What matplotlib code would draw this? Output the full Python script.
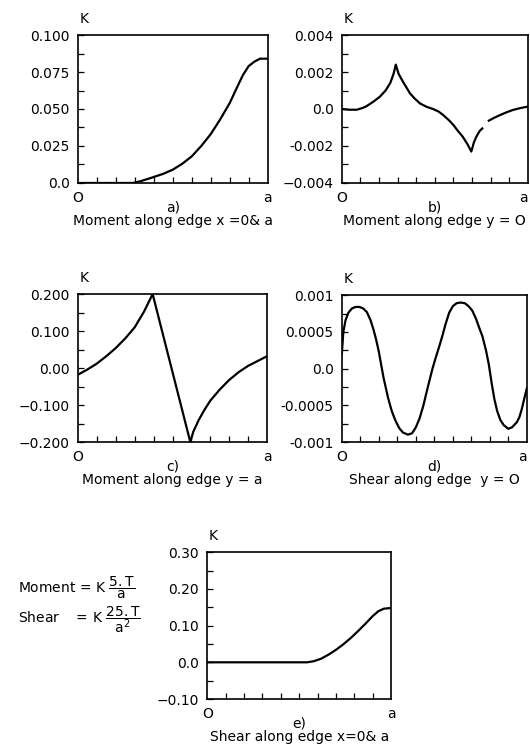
import numpy as np
import matplotlib
matplotlib.use("Agg")
import matplotlib.pyplot as plt

# a) moment along edge x = 0 & a
a_x = [0, 0.29, 0.33, 0.37, 0.41, 0.45, 0.5, 0.55, 0.6, 0.65, 0.7, 0.75, 0.8, 0.84, 0.87, 0.9, 0.93, 0.96, 1.0]
a_y = [0, 0, 0.0012, 0.0028, 0.0045, 0.0062, 0.009, 0.013, 0.018, 0.025, 0.033, 0.043, 0.054, 0.065, 0.073,
       0.079, 0.082, 0.084, 0.084]

# b) moment along edge y = 0 (gap in the original trace)
b_x = [0, 0.04, 0.08, 0.11, 0.134, 0.17, 0.205, 0.235, 0.26, 0.278, 0.29, 0.305, 0.33, 0.366, 0.39, 0.42,
       0.455, 0.49, 0.52, 0.545, 0.575, 0.6, 0.625, 0.65, 0.675, 0.696, 0.71, 0.723, 0.74, 0.755, 0.77,
       0.79, 0.82, 0.85, 0.885, 0.92, 0.96, 1.0]
b_y = [0, -0.00004, -0.00004, 0.00005, 0.00016, 0.0004, 0.00067, 0.001, 0.0014, 0.0019, 0.0024, 0.0019,
       0.00145, 0.00085, 0.00058, 0.0003, 0.00012, 0.0, -0.00014, -0.00033, -0.0006, -0.00087, -0.0012,
       -0.0015, -0.0019, -0.0023, -0.0018, -0.0015, -0.0012, -0.00105, np.nan,
       -0.00063, -0.00047, -0.00033, -0.00018, -0.00005, 0.00005, 0.00013]

# c) moment along edge y = a
c_x = [0, 0.05, 0.1, 0.15, 0.2, 0.25, 0.3, 0.35, 0.395, 0.594, 0.61, 0.638, 0.67, 0.7, 0.75, 0.8, 0.85,
       0.9, 0.95, 1.0]
c_y = [-0.018, -0.004, 0.012, 0.032, 0.054, 0.08, 0.11, 0.153, 0.2, -0.2, -0.172, -0.141, -0.112, -0.088,
       -0.058, -0.032, -0.011, 0.006, 0.019, 0.032]

# d) shear along edge y = 0
d_x = [0, 0.008, 0.02, 0.035, 0.055, 0.075, 0.095, 0.115, 0.135, 0.155, 0.17, 0.185, 0.2, 0.225, 0.25,
       0.27, 0.29, 0.31, 0.33, 0.357, 0.38, 0.4, 0.42, 0.44, 0.464, 0.49, 0.51, 0.53, 0.545, 0.56, 0.58,
       0.6, 0.62, 0.643, 0.665, 0.685, 0.705, 0.725, 0.745, 0.76, 0.78, 0.795, 0.81, 0.825, 0.84, 0.857,
       0.875, 0.9, 0.92, 0.946, 0.96, 0.973, 0.987, 1.0]
d_y = [0.0002, 0.0005, 0.00066, 0.00076, 0.00082, 0.00084, 0.00084, 0.00082, 0.00077, 0.00066, 0.00054,
       0.0004, 0.00023, -0.00012, -0.0004, -0.00058, -0.00071, -0.00081, -0.00087, -0.0009, -0.00088,
       -0.0008, -0.00068, -0.00051, -0.00026, 0.0, 0.00017, 0.00033, 0.00046, 0.0006, 0.00076, 0.00085,
       0.00089, 0.0009, 0.00089, 0.00085, 0.00079, 0.00068, 0.00054, 0.00044, 0.00024, 0.00005, -0.0002,
       -0.00042, -0.00058, -0.0007, -0.00077, -0.00082, -0.0008, -0.00073, -0.00066, -0.00055, -0.0004,
       -0.00027]

# e) shear along edge x = 0 & a
e_x = [0, 0.543, 0.58, 0.62, 0.66, 0.7, 0.74, 0.78, 0.82, 0.86, 0.9, 0.93, 0.96, 1.0]
e_y = [0, 0, 0.003, 0.01, 0.021, 0.034, 0.049, 0.066, 0.085, 0.105, 0.126, 0.139, 0.146, 0.148]

a_ticks = [0.0, 0.025, 0.050, 0.075, 0.100]
a_labels = ["0.0", "0.025", "0.050", "0.075", "0.100"]
b_ticks = [-0.004, -0.002, 0.0, 0.002, 0.004]
b_labels = ["\u22120.004", "-0.002", "0.0", "0.002", "0.004"]
c_ticks = [-0.2, -0.1, 0.0, 0.1, 0.2]
c_labels = ["\u22120.200", "\u22120.100", "0.00", "0.100", "0.200"]
d_ticks = [-0.001, -0.0005, 0.0, 0.0005, 0.001]
d_labels = ["-0.001", "-0.0005", "0.0", "0.0005", "0.001"]
e_ticks = [-0.1, 0.0, 0.1, 0.2, 0.3]
e_labels = ["\u22120.10", "0.0", "0.10", "0.20", "0.30"]

plt.rcParams['font.family'] = ['DejaVu Sans']
plt.rcParams['mathtext.default'] = 'regular'
fs = 10

fig = plt.figure(figsize=(5.3, 7.53), dpi=100)


def panel(rect, x, y, ticks, labels, minor_step, tag, title, right_edge=False):
    ax = fig.add_axes(rect)
    ax.plot(x, y, color="black", lw=1.6)
    ax.set_xlim(0, 1)
    ax.set_ylim(ticks[0], ticks[-1])
    ax.set_yticks(ticks)
    ax.set_yticklabels(labels, fontsize=fs)
    ax.set_yticks(np.arange(ticks[0], ticks[-1] + minor_step / 2, minor_step), minor=True)
    ax.set_xticks([0, 1])
    ax.set_xticklabels(["O", "a"], fontsize=fs)
    if right_edge:
        ax.get_xticklabels()[1].set_horizontalalignment("right")
    ax.set_xticks(np.arange(0.1, 0.95, 0.1), minor=True)
    ax.tick_params(which="both", direction="in", length=4, width=0.9)
    ax.tick_params(axis="x", which="major", length=0, pad=6)
    ax.tick_params(axis="y", which="major", length=4, pad=6)
    for s in ax.spines.values():
        s.set_linewidth(1.2)
    ax.text(0.01, 1.06, "K", transform=ax.transAxes, fontsize=fs, ha="left", va="bottom")
    ax.text(0.5, -0.12, tag, transform=ax.transAxes, fontsize=fs, ha="center", va="top")
    ax.text(0.5, -0.21, title, transform=ax.transAxes, fontsize=fs, ha="center", va="top")
    return ax


panel([0.147, 0.757, 0.358, 0.1965], a_x, a_y, a_ticks, a_labels, 0.0125, "a)", "Moment along edge x =0& a")
panel([0.645, 0.757, 0.351, 0.1965], b_x, b_y, b_ticks, b_labels, 0.001, "b)", "Moment along edge y = O", True)
panel([0.147, 0.413, 0.357, 0.1965], c_x, c_y, c_ticks, c_labels, 0.05, "c)", "Moment along edge y = a")
panel([0.645, 0.413, 0.349, 0.195], d_x, d_y, d_ticks, d_labels, 0.00025, "d)", "Shear along edge  y = O", True)
panel([0.391, 0.0717, 0.347, 0.195], e_x, e_y, e_ticks, e_labels, 0.05, "e)", "Shear along edge x=0& a")

fig.text(0.034, 1 - 588 / 753, r"Moment = K $\dfrac{5.T}{a}$", fontsize=fs, va="center")
fig.text(0.034, 1 - 620 / 753, r"Shear    = K $\dfrac{25.T}{a^2}$", fontsize=fs, va="center")

fig.savefig("out.png", dpi=100)
